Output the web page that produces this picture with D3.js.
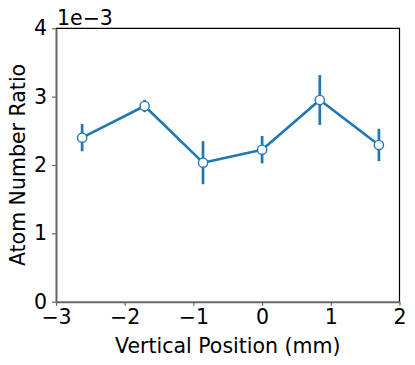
<!DOCTYPE html>
<html>
<head>
<meta charset="utf-8">
<script src="https://cdn.jsdelivr.net/npm/d3@7"></script>
<style>
  body { margin: 0; background: #fff; }
  svg { display: block; font-family: "DejaVu Sans", sans-serif; }
</style>
</head>
<body>
<div id="chart"></div>
<script>
// vertical position (mm)
const positions = [-2.62, -1.71, -0.86, 0.0, 0.84, 1.70];
// atom number ratio, in units of 1e-3
const ratios = [2.40, 2.863, 2.034, 2.224, 2.951, 2.293];
const ratioErrors = [0.20, 0.09, 0.315, 0.20, 0.366, 0.237];
const xTicks = [-3, -2, -1, 0, 1, 2];
const yTicks = [0, 1, 2, 3, 4];

const width = 415, height = 365;
const margin = { top: 28.3, right: 15.5, bottom: 63.3, left: 56 };
const blue = "#1f77b4";
const fontSize = 20.5;

const svg = d3.select("#chart").append("svg")
  .attr("width", width)
  .attr("height", height);

const x = d3.scaleLinear().domain([-3, 2]).range([margin.left, width - margin.right]);
const y = d3.scaleLinear().domain([0, 4]).range([height - margin.bottom, margin.top]);

const points = positions.map((p, i) => ({ p, v: ratios[i], e: ratioErrors[i] }));

// top and right spines (black)
svg.append("path")
  .attr("d", `M${x(-3)},${y(4)}H${x(2)}V${y(0)}`)
  .attr("fill", "none")
  .attr("stroke", "#000")
  .attr("stroke-width", 1.2);

const fmt = d => d < 0 ? "\u2212" + Math.abs(d) : String(d);

const xAxis = svg.append("g")
  .attr("transform", `translate(0,${y(0)})`)
  .call(d3.axisBottom(x).tickValues(xTicks).tickFormat(fmt).tickSizeInner(4).tickSizeOuter(0).tickPadding(4));

const yAxis = svg.append("g")
  .attr("transform", `translate(${x(-3)},0)`)
  .call(d3.axisLeft(y).tickValues(yTicks).tickFormat(fmt).tickSizeInner(4).tickSizeOuter(0).tickPadding(5));

[xAxis, yAxis].forEach(g => {
  g.select(".domain").attr("stroke", "#666").attr("stroke-width", 2);
  g.selectAll(".tick line").attr("stroke", "#666").attr("stroke-width", 1.2);
  g.selectAll(".tick text")
    .attr("fill", "#000")
    .style("font-size", fontSize + "px")
    .style("font-family", "DejaVu Sans");
});

// error bars
svg.append("g")
  .selectAll("line")
  .data(points)
  .join("line")
  .attr("x1", d => x(d.p))
  .attr("x2", d => x(d.p))
  .attr("y1", d => y(d.v - d.e))
  .attr("y2", d => y(d.v + d.e))
  .attr("stroke", blue)
  .attr("stroke-width", 2.7);

// connecting line
svg.append("path")
  .datum(points)
  .attr("d", d3.line().x(d => x(d.p)).y(d => y(d.v)))
  .attr("fill", "none")
  .attr("stroke", blue)
  .attr("stroke-width", 2.6)
  .attr("stroke-linejoin", "round");

// markers
svg.append("g")
  .selectAll("circle")
  .data(points)
  .join("circle")
  .attr("cx", d => x(d.p))
  .attr("cy", d => y(d.v))
  .attr("r", 4.6)
  .attr("fill", "#fff")
  .attr("stroke", blue)
  .attr("stroke-width", 1.4);

// axis labels
svg.append("text")
  .attr("x", (x(-3) + x(2)) / 2)
  .attr("y", 352.5)
  .attr("text-anchor", "middle")
  .style("font-size", fontSize + "px")
  .text("Vertical Position (mm)");

svg.append("text")
  .attr("transform", `translate(25,${(y(0) + y(4)) / 2}) rotate(-90)`)
  .attr("text-anchor", "middle")
  .style("font-size", fontSize + "px")
  .text("Atom Number Ratio");

// offset text
svg.append("text")
  .attr("x", 57)
  .attr("y", 24.5)
  .style("font-size", fontSize + "px")
  .text("1e\u22123");
</script>
</body>
</html>
